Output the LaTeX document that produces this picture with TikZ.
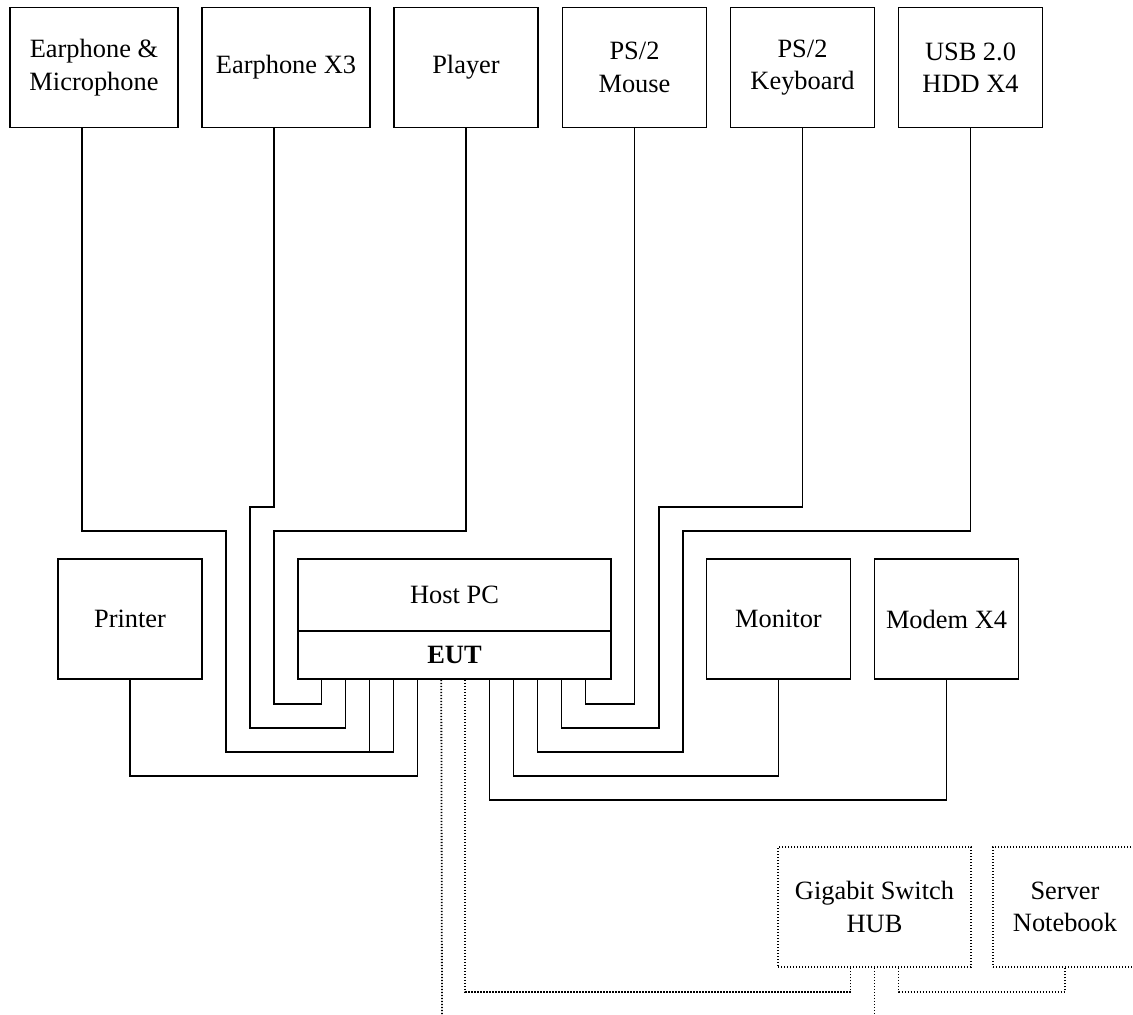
\documentclass[tikz,border=0pt]{standalone}
\usepackage{fontspec}
\setmainfont{Liberation Serif}

\begin{document}
\begin{tikzpicture}[
        x = 0.5pt, y = -0.5pt,
        box/.style = {draw, line width=0.75pt, inner sep=0pt, align=center,
            minimum width=72pt, minimum height=60pt,
            font=\fontsize{13.2}{16.2}\selectfont},
        netbox/.style = {box, line width=0.9pt, dash pattern=on 0.7pt off 0.8pt},
        cable/.style = {line width=0.75pt},
        net/.style = {line width=0.9pt, dash pattern=on 0.7pt off 0.8pt}
    ]
        \useasboundingbox (0,0) rectangle (1133,1014);
        \node [box, minimum width=84pt] (mic) at (94,67.5) {Earphone \&\\Microphone};
        \node [box, minimum width=84pt] (ex3) at (286,67.5) {Earphone X3};
        \node [box] (player) at (466,67.5) {Player};
        \node [box] (mouse) at (634.5,67.5) {PS/2\\Mouse};
        \node [box] (kbd) at (802.5,67.5) {PS/2\\Keyboard};
        \node [box] (hdd) at (970.5,67.5) {USB 2.0\\HDD X4};
        \node [box] (printer) at (130,619) {Printer};
        \node [box, minimum width=156.5pt, minimum height=36pt] (host) at (454.5,595) {Host PC};
        \node [box, minimum width=156.5pt, minimum height=24pt] (eut) at (454.5,655) {\textbf{EUT}};
        \node [box] (monitor) at (778.5,619) {Monitor};
        \node [box] (modem) at (946.5,619) {Modem X4};
        \node [netbox, minimum width=96.5pt] (switch) at (874.5,907) {Gigabit Switch\\HUB};
        \node [netbox] (server) at (1065,907) {Server\\Notebook};
        \foreach \k in {1,...,12}
            \coordinate (p\k) at ([xshift=\k*12pt]eut.south west);
        \draw [cable] ([xshift=-6pt]mic.south) |- (226,531) |- ([yshift=-36pt]p4) -- (p4);
        \draw [cable] (p3) -- ([yshift=-36pt]p3);
        \draw [cable] ([xshift=-6pt]ex3.south) |- (250,507) |- ([yshift=-24pt]p2) -- (p2);
        \draw [cable] (player.south) |- (274,531) |- ([yshift=-12pt]p1) -- (p1);
        \draw [cable] (printer.south) |- ([yshift=-48pt]p5) -- (p5);
        \draw [cable] (mouse.south) |- ([yshift=-12pt]p12) -- (p12);
        \draw [cable] (kbd.south) |- (659,507) |- ([yshift=-24pt]p11) -- (p11);
        \draw [cable] (hdd.south) |- (683,531) |- ([yshift=-36pt]p10) -- (p10);
        \draw [cable] (monitor.south) |- ([yshift=-48pt]p9) -- (p9);
        \draw [cable] (modem.south) |- ([yshift=-60pt]p8) -- (p8);
        \coordinate (lan1) at (442,1014);
        \coordinate (lan2) at (874.5,1014);
        \draw [net] (p6) -- (lan1);
        \draw [net] (p7) |- ([yshift=-12pt,xshift=-12pt]switch.south) -- ([xshift=-12pt]switch.south);
        \draw [net] (switch.south) -- (lan2);
        \draw [net] ([xshift=12pt]switch.south) |- ([yshift=-12pt]server.south) -- (server.south);
\end{tikzpicture}
\end{document}
